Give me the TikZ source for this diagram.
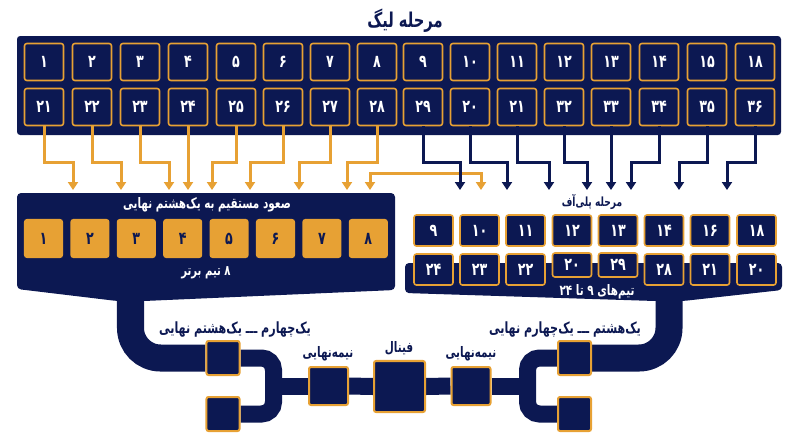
\documentclass[tikz,border=0pt]{standalone}
\usepackage{fontspec}
\newfontfamily\fa[Script=Arabic]{DejaVu Sans}
\newfontfamily\fan[Script=Arabic, FakeStretch=0.72]{DejaVu Sans}
\usetikzlibrary{arrows.meta,backgrounds}
\TeXXeTstate=1
\definecolor{navy}{RGB}{12,24,82}
\definecolor{gold}{RGB}{231,161,52}
\tikzset{
  team/.style={draw=gold, fill=navy, line width=0.04cm, rounded corners=0.06cm,
    minimum width=0.975cm, minimum height=0.925cm, inner sep=0pt, text=white,
    font=\fan\bfseries\fontsize{12.5}{14}\selectfont},
  topteam/.style={fill=gold, rounded corners=0.07cm, minimum width=0.975cm,
    minimum height=0.975cm, inner sep=0pt, text=navy,
    font=\fan\bfseries\fontsize{12.5}{14}\selectfont},
  playteam/.style={team, minimum height=0.775cm},
  lowteam/.style={team, minimum height=0.6cm},
  roundbox/.style={draw=gold, fill=navy, line width=0.05cm, rounded corners=0.05cm, inner sep=0pt},
  goldline/.style={->, draw=gold, line width=0.075cm},
  navyline/.style={->, draw=navy, line width=0.075cm},
  band/.style={draw=navy, line width=0.425cm, rounded corners=0.3cm},
  wideband/.style={draw=navy, line width=0.675cm, rounded corners=0.75cm},
  stagetext/.style={text=navy, inner sep=0pt, font=\fan\bfseries\fontsize{10.3}{12}\selectfont},
}
\begin{document}
\begin{tikzpicture}[x=0.025cm, y=-0.025cm, >={Triangle[width=0.25cm,length=0.2cm]}]
\useasboundingbox (0,0) rectangle (800,447);

% League stage
\node[stagetext, font=\fan\bfseries\fontsize{14.5}{16}\selectfont] (league) at (405,21) {\beginR مرحله لیگ\endR};
\fill[navy, rounded corners=0.08cm] (17,36) rectangle (781,135);

% League row one
\node[team] (la1) at (44,62) {۱};
\node[team] (la2) at (92,62) {۲};
\node[team] (la3) at (140,62) {۳};
\node[team] (la4) at (188,62) {۴};
\node[team] (la5) at (236,62) {۵};
\node[team] (la6) at (283,62) {۶};
\node[team] (la7) at (330,62) {۷};
\node[team] (la8) at (377,62) {۸};
\node[team] (la9) at (423,62) {۹};
\node[team] (la10) at (470,62) {۱۰};
\node[team] (la11) at (517,62) {۱۱};
\node[team] (la12) at (564,62) {۱۲};
\node[team] (la13) at (611,62) {۱۳};
\node[team] (la14) at (659,62) {۱۴};
\node[team] (la15) at (707,62) {۱۵};
\node[team] (la16) at (755,62) {۱۸};

% League row two
\node[team] (lb1) at (44,107) {۲۱};
\node[team] (lb2) at (92,107) {۲۲};
\node[team] (lb3) at (140,107) {۲۳};
\node[team] (lb4) at (188,107) {۲۴};
\node[team] (lb5) at (236,107) {۲۵};
\node[team] (lb6) at (283,107) {۲۶};
\node[team] (lb7) at (330,107) {۲۷};
\node[team] (lb8) at (377,107) {۲۸};
\node[team] (lb9) at (423,107) {۲۹};
\node[team] (lb10) at (470,107) {۲۰};
\node[team] (lb11) at (517,107) {۲۱};
\node[team] (lb12) at (564,107) {۳۲};
\node[team] (lb13) at (611,107) {۳۳};
\node[team] (lb14) at (659,107) {۳۴};
\node[team] (lb15) at (707,107) {۳۵};
\node[team] (lb16) at (755,107) {۳۶};

% Arrow ends
\coordinate (e1) at (73,190);
\coordinate (e2) at (121,190);
\coordinate (e3) at (169,190);
\coordinate (e4) at (188,190);
\coordinate (e5) at (212,190);
\coordinate (e6) at (250,190);
\coordinate (e7) at (299,190);
\coordinate (e8) at (347,190);
\coordinate (p1) at (460,190);
\coordinate (p2) at (507,190);
\coordinate (p3) at (549,190);
\coordinate (p4) at (587,190);
\coordinate (p5) at (611,190);
\coordinate (p6) at (631,190);
\coordinate (p7) at (679,190);
\coordinate (p8) at (727,190);
\coordinate (s1) at (370,190);
\coordinate (s2) at (481,190);

% Top eight arrows
\draw[goldline] (lb1.south) -- ++(0,36) -| (e1);
\draw[goldline] (lb2.south) -- ++(0,36) -| (e2);
\draw[goldline] (lb3.south) -- ++(0,36) -| (e3);
\draw[goldline] (lb4.south) -- (e4);
\draw[goldline] (lb5.south) -- ++(0,36) -| (e5);
\draw[goldline] (lb6.south) -- ++(0,36) -| (e6);
\draw[goldline] (lb7.south) -- ++(0,36) -| (e7);
\draw[goldline] (lb8.south) -- ++(0,36) -| (e8);
\draw[goldline, <->] (s1) -- ++(0,-17) -| (s2);

% Playoff arrows
\draw[navyline] (lb9.south) -- ++(0,36) -| (p1);
\draw[navyline] (lb10.south) -- ++(0,36) -| (p2);
\draw[navyline] (lb11.south) -- ++(0,36) -| (p3);
\draw[navyline] (lb12.south) -- ++(0,36) -| (p4);
\draw[navyline] (lb13.south) -- (p5);
\draw[navyline] (lb14.south) -- ++(0,36) -| (p6);
\draw[navyline] (lb15.south) -- ++(0,36) -| (p7);
\draw[navyline] (lb16.south) -- ++(0,36) -| (p8);

% Direct to round of sixteen
\fill[navy, rounded corners=0.1cm] (17,193) -- (395,193) -- (395,290) -- (144,301) -- (117,301) -- (17,289) -- cycle;
\node[stagetext, text=white] (direct) at (207,205) {\beginR صعود مستقیم به یک‌هشتم نهایی\endR};
\node[topteam] (q1) at (43.5,238.5) {۱};
\node[topteam] (q2) at (89.9,238.5) {۲};
\node[topteam] (q3) at (136.3,238.5) {۳};
\node[topteam] (q4) at (182.7,238.5) {۴};
\node[topteam] (q5) at (229.1,238.5) {۵};
\node[topteam] (q6) at (275.5,238.5) {۶};
\node[topteam] (q7) at (321.9,238.5) {۷};
\node[topteam] (q8) at (368.3,238.5) {۸};
\node[stagetext, text=white, font=\fan\bfseries\fontsize{10}{12}\selectfont] (topeight) at (206,273) {\beginR ۸ تیم برتر\endR};

% Playoff stage
\fill[navy, rounded corners=0.1cm] (405,263) -- (782,263) -- (782,290) -- (683,301) -- (655,301) -- (405,293) -- cycle;
\node[stagetext, font=\fan\bfseries\fontsize{9}{11}\selectfont] (playoff) at (592,202) {\beginR مرحله پلی‌آف\endR};
\node[playteam] (pa1) at (433.5,230.5) {۹};
\node[playteam] (pa2) at (479.5,230.5) {۱۰};
\node[playteam] (pa3) at (525.5,230.5) {۱۱};
\node[playteam] (pa4) at (572,230.5) {۱۲};
\node[playteam] (pa5) at (618,230.5) {۱۳};
\node[playteam] (pa6) at (664,230.5) {۱۴};
\node[playteam] (pa7) at (710,230.5) {۱۶};
\node[playteam] (pa8) at (756.5,230.5) {۱۸};
\node[playteam] (pb1) at (433.5,269.5) {۲۴};
\node[playteam] (pb2) at (479.5,269.5) {۲۳};
\node[playteam] (pb3) at (525.5,269.5) {۲۲};
\node[lowteam] (pb4) at (572,265) {۲۰};
\node[lowteam] (pb5) at (618,265) {۲۹};
\node[playteam] (pb6) at (664,269.5) {۲۸};
\node[playteam] (pb7) at (710,269.5) {۲۱};
\node[playteam] (pb8) at (756.5,269.5) {۲۰};
\node[stagetext, text=white] (ninetwenty) at (597,292) {\beginR تیم‌های ۹ تا ۲۴\endR};

% Knockout bracket
\coordinate (bandL) at (130.5,290);
\coordinate (bandR) at (669,290);
\coordinate (jL) at (273.5,386);
\coordinate (jR) at (527.5,386);
\node[roundbox, minimum width=0.825cm, minimum height=0.85cm] (qfL1) at (223,358) {};
\node[roundbox, minimum width=0.825cm, minimum height=0.85cm] (qfL2) at (223,414) {};
\node[roundbox, minimum width=0.825cm, minimum height=0.85cm] (qfR1) at (574.5,358) {};
\node[roundbox, minimum width=0.825cm, minimum height=0.85cm] (qfR2) at (574.5,414) {};
\node[roundbox, minimum width=0.975cm, minimum height=0.95cm] (sfL) at (328.5,386) {};
\node[roundbox, minimum width=0.975cm, minimum height=0.95cm] (sfR) at (471,386) {};
\node[roundbox, minimum size=1.275cm] (fin) at (399.5,386.5) {};
\begin{pgfonlayer}{background}
\draw[wideband] (bandL) |- (qfL1.west);
\draw[wideband] (bandR) |- (qfR1.east);
\draw[band] (qfL1.east) -| (jL) |- (qfL2.east);
\draw[band] (qfR1.west) -| (jR) |- (qfR2.west);
\draw[band] (jL) -- (sfL.west);
\draw[band] (sfL.east) -- (fin.west);
\draw[band] (fin.east) -- (sfR.west);
\draw[band] (sfR.east) -- (jR);
\end{pgfonlayer}
\node[stagetext, font=\fan\bfseries\fontsize{11}{13}\selectfont] (roundL) at (235,330) {\beginR یک‌چهارم ـــ یک‌هشتم نهایی\endR};
\node[stagetext, font=\fan\bfseries\fontsize{11}{13}\selectfont] (roundR) at (565,330) {\beginR یک‌هشتم ـــ یک‌چهارم نهایی\endR};
\node[stagetext] (semiL) at (328,354) {\beginR نیمه‌نهایی\endR};
\node[stagetext] (final) at (399,348) {\beginR فینال\endR};
\node[stagetext] (semiR) at (471,354) {\beginR نیمه‌نهایی\endR};
\end{tikzpicture}
\end{document}
